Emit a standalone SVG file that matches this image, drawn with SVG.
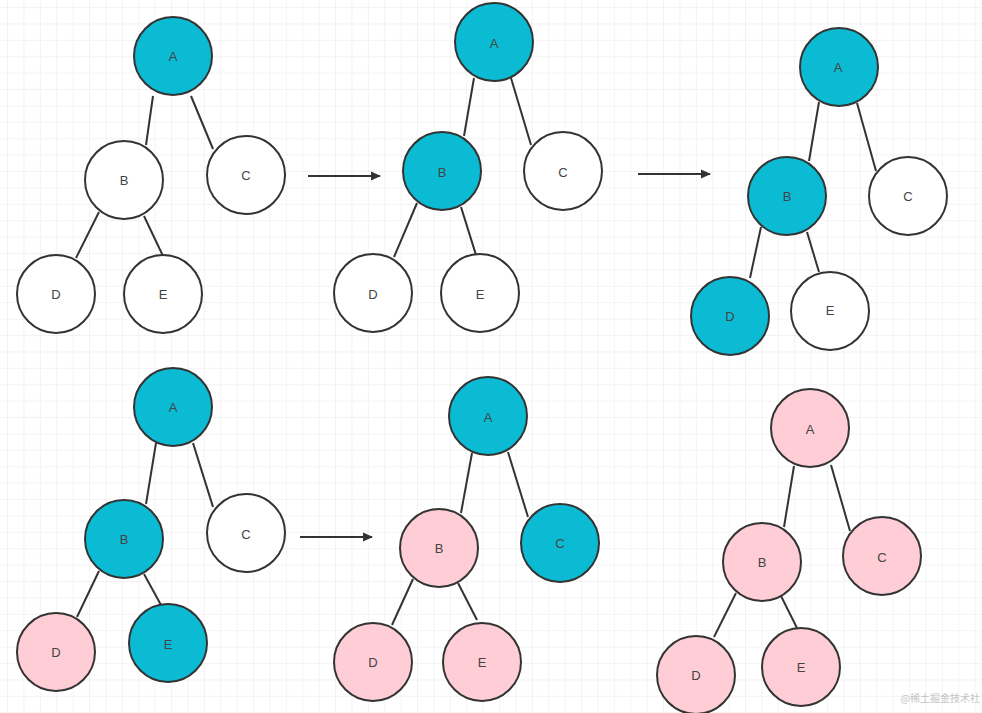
<svg xmlns="http://www.w3.org/2000/svg" width="982" height="713" viewBox="0 0 982 713">
<style>
.n circle{stroke:#333;stroke-width:2}
.w circle{fill:#fff}
.t circle{fill:#0bbbd3}
.p circle{fill:#fecdd5}
.n text{font-family:"Liberation Sans",Arial,sans-serif;font-size:13px;fill:#444;text-anchor:middle;dominant-baseline:central}
.e line{stroke:#333;stroke-width:2}
.a line{stroke:#333;stroke-width:2}
</style>
<defs>
<pattern id="grid" width="16.4" height="16.4" patternUnits="userSpaceOnUse" x="8" y="8">
<path d="M16.4 0V16.4H0" fill="none" stroke="#e8e8e8" stroke-width="1"/>
</pattern>
<marker id="arr" markerWidth="10" markerHeight="10" refX="9" refY="5" orient="auto" markerUnits="userSpaceOnUse">
<path d="M0 0.5L10 5L0 9.5Z" fill="#333"/>
</marker>
</defs>
<rect width="982" height="713" fill="#fff"/>
<rect width="982" height="713" fill="url(#grid)"/>

<g id="connectors">
<g class="e">
<line x1="153" y1="96" x2="146" y2="145"/>
<line x1="191" y1="96" x2="213" y2="149"/>
<line x1="99" y1="212" x2="76" y2="258"/>
<line x1="144" y1="216" x2="163" y2="256"/>

<line x1="474" y1="78" x2="464" y2="136"/>
<line x1="511" y1="78" x2="531" y2="145"/>
<line x1="417" y1="203" x2="394" y2="257"/>
<line x1="461" y1="207" x2="476" y2="255"/>

<line x1="819" y1="102" x2="809" y2="161"/>
<line x1="857" y1="103" x2="876" y2="171"/>
<line x1="761" y1="227" x2="750" y2="278"/>
<line x1="807" y1="232" x2="819" y2="272"/>

<line x1="156" y1="443" x2="146" y2="504"/>
<line x1="193" y1="443" x2="213" y2="507"/>
<line x1="99" y1="571" x2="77" y2="617"/>
<line x1="144" y1="574" x2="161" y2="605"/>

<line x1="472" y1="453" x2="461" y2="513"/>
<line x1="508" y1="452" x2="528" y2="517"/>
<line x1="413" y1="579" x2="392" y2="625"/>
<line x1="458" y1="583" x2="477" y2="620"/>

<line x1="794" y1="466" x2="784" y2="527"/>
<line x1="831" y1="465" x2="850" y2="531"/>
<line x1="736" y1="593" x2="714" y2="637"/>
<line x1="781" y1="596" x2="797" y2="628"/>
</g>
<g class="a">
<line x1="308" y1="176" x2="380" y2="176" marker-end="url(#arr)"/>
<line x1="638" y1="174" x2="710" y2="174" marker-end="url(#arr)"/>
<line x1="300" y1="537" x2="372" y2="537" marker-end="url(#arr)"/>
</g>
</g>

<g id="t1-A" class="n t"><circle cx="173" cy="56" r="39"/><text x="173" y="56">A</text></g>
<g id="t1-B" class="n w"><circle cx="124" cy="180" r="39"/><text x="124" y="180">B</text></g>
<g id="t1-C" class="n w"><circle cx="246" cy="175" r="39"/><text x="246" y="175">C</text></g>
<g id="t1-D" class="n w"><circle cx="56" cy="294" r="39"/><text x="56" y="294">D</text></g>
<g id="t1-E" class="n w"><circle cx="163" cy="294" r="39"/><text x="163" y="294">E</text></g>

<g id="t2-A" class="n t"><circle cx="494" cy="42" r="39"/><text x="494" y="43">A</text></g>
<g id="t2-B" class="n t"><circle cx="442" cy="171" r="39"/><text x="442" y="172">B</text></g>
<g id="t2-C" class="n w"><circle cx="563" cy="171" r="39"/><text x="563" y="172">C</text></g>
<g id="t2-D" class="n w"><circle cx="373" cy="293" r="39"/><text x="373" y="294">D</text></g>
<g id="t2-E" class="n w"><circle cx="480" cy="293" r="39"/><text x="480" y="294">E</text></g>

<g id="t3-A" class="n t"><circle cx="839" cy="67" r="39"/><text x="838" y="67">A</text></g>
<g id="t3-B" class="n t"><circle cx="787" cy="196" r="39"/><text x="787" y="196">B</text></g>
<g id="t3-C" class="n w"><circle cx="908" cy="196" r="39"/><text x="908" y="196">C</text></g>
<g id="t3-D" class="n t"><circle cx="730" cy="316" r="39"/><text x="730" y="316">D</text></g>
<g id="t3-E" class="n w"><circle cx="830" cy="311" r="39"/><text x="830" y="310">E</text></g>

<g id="t4-A" class="n t"><circle cx="173" cy="407" r="39"/><text x="173" y="407">A</text></g>
<g id="t4-B" class="n t"><circle cx="124" cy="539" r="39"/><text x="124" y="539">B</text></g>
<g id="t4-C" class="n w"><circle cx="246" cy="533" r="39"/><text x="246" y="534">C</text></g>
<g id="t4-D" class="n p"><circle cx="56" cy="652" r="39"/><text x="56" y="652">D</text></g>
<g id="t4-E" class="n t"><circle cx="168" cy="643" r="39"/><text x="168" y="644">E</text></g>

<g id="t5-A" class="n t"><circle cx="488" cy="416" r="39"/><text x="488" y="417">A</text></g>
<g id="t5-B" class="n p"><circle cx="439" cy="548" r="39"/><text x="439" y="548">B</text></g>
<g id="t5-C" class="n t"><circle cx="560" cy="543" r="39"/><text x="560" y="543">C</text></g>
<g id="t5-D" class="n p"><circle cx="373" cy="662" r="39"/><text x="373" y="662">D</text></g>
<g id="t5-E" class="n p"><circle cx="482" cy="662" r="39"/><text x="482" y="662">E</text></g>

<g id="t6-A" class="n p"><circle cx="810" cy="428" r="39"/><text x="810" y="429">A</text></g>
<g id="t6-B" class="n p"><circle cx="762" cy="562" r="39"/><text x="762" y="562">B</text></g>
<g id="t6-C" class="n p"><circle cx="882" cy="556" r="39"/><text x="882" y="557">C</text></g>
<g id="t6-D" class="n p"><circle cx="696" cy="675" r="39"/><text x="696" y="675">D</text></g>
<g id="t6-E" class="n p"><circle cx="801" cy="667" r="39"/><text x="801" y="667">E</text></g>

<text x="980" y="702" text-anchor="end" font-family="'Noto Sans CJK SC',sans-serif" font-size="10" fill="#c4c4c4">@稀土掘金技术社</text>
</svg>
